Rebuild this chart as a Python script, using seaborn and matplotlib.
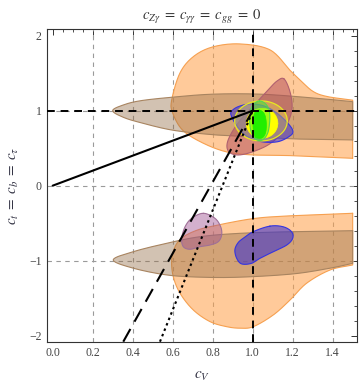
import numpy as np
import matplotlib
matplotlib.use("Agg")
import matplotlib.pyplot as plt
import seaborn as sns
import pandas as pd

# ---------------- data ----------------
# Upper orange region (open outline, closed by the right edge at cV=1.5)
orange_up_cv = [1.50, 1.20, 1.00, 0.87, 0.75, 0.65, 0.60, 0.595, 0.636, 0.703, 0.80, 0.936, 1.087, 1.186, 1.237, 1.30, 1.37, 1.50]
orange_up_ct = [0.365, 0.40, 0.41, 0.45, 0.57, 0.74, 0.97, 1.14, 1.50, 1.72, 1.85, 1.89, 1.81, 1.54, 1.41, 1.26, 1.19, 1.14]
# Lower orange region
orange_lo_cv = [1.50, 1.20, 1.00, 0.787, 0.703, 0.645, 0.612, 0.595, 0.603, 0.637, 0.703, 0.787, 0.87, 0.937, 1.003, 1.103, 1.187, 1.27, 1.387, 1.50]
orange_lo_ct = [-0.368, -0.40, -0.44, -0.547, -0.613, -0.70, -0.813, -0.99, -1.213, -1.435, -1.657, -1.813, -1.88, -1.90, -1.88, -1.724, -1.524, -1.30, -1.124, -1.057]
# Upper brown band
brown_up_cv = [1.50, 1.25, 1.00, 0.80, 0.60, 0.44, 0.353, 0.30, 0.353, 0.44, 0.60, 0.80, 1.04, 1.30, 1.50]
brown_up_ct = [0.61, 0.62, 0.65, 0.68, 0.74, 0.84, 0.912, 1.00, 1.076, 1.133, 1.18, 1.22, 1.22, 1.17, 1.12]
# Lower brown band
brown_lo_cv = [1.50, 1.20, 0.937, 0.737, 0.57, 0.403, 0.303, 0.403, 0.57, 0.737, 0.937, 1.20, 1.387, 1.50]
brown_lo_ct = [-0.60, -0.613, -0.635, -0.68, -0.768, -0.88, -0.99, -1.10, -1.19, -1.22, -1.22, -1.177, -1.10, -1.035]
# Upper red ellipse
red_cv = [1.157, 1.187, 1.197, 1.177, 1.137, 1.077, 0.997, 0.927, 0.882, 0.872, 0.897, 0.947, 1.012, 1.077, 1.122]
red_ct = [1.423, 1.249, 1.036, 0.849, 0.676, 0.543, 0.449, 0.409, 0.449, 0.556, 0.716, 0.903, 1.089, 1.276, 1.396]
# Lower purple blob
purple_cv = [0.753, 0.8115, 0.84, 0.845, 0.828, 0.787, 0.737, 0.687, 0.653, 0.645, 0.662, 0.695]
purple_ct = [-0.368, -0.435, -0.547, -0.657, -0.747, -0.791, -0.813, -0.848, -0.813, -0.701, -0.547, -0.435]
# Upper blue ellipse
blue_up_cv = [0.893, 0.927, 0.99, 1.06, 1.12, 1.17, 1.20, 1.19, 1.127, 1.043, 0.97, 0.92, 0.895]
blue_up_ct = [0.987, 1.053, 1.09, 1.06, 0.97, 0.85, 0.74, 0.67, 0.587, 0.587, 0.66, 0.80, 0.92]
# Lower blue blob
blue_lo_cv = [1.0865, 1.153, 1.195, 1.20, 1.17, 1.103, 1.037, 0.995, 0.945, 0.92, 0.911, 0.926, 0.953, 1.003]
blue_lo_ct = [-0.539, -0.548, -0.615, -0.703, -0.792, -0.88, -0.968, -1.035, -1.043, -0.968, -0.857, -0.764, -0.701, -0.613]
# Yellow contours (centre cV, centre ct, half-width, half-height)
yellow_outer = [1.0415, 0.863, 0.1315, 0.267]
yellow_inner = [1.047, 0.832, 0.079, 0.200]
# Green contours
green_outer_cv = [1.035, 1.065, 1.083, 1.085, 1.075, 1.050, 1.020, 0.995, 0.985, 0.990, 1.005]
green_outer_ct = [1.129, 1.09, 1.00, 0.85, 0.70, 0.612, 0.612, 0.70, 0.85, 1.00, 1.09]
green_inner_cv = [1.033, 1.058, 1.068, 1.066, 1.052, 1.030, 1.010, 1.002, 1.004, 1.012]
green_inner_ct = [1.009, 0.96, 0.85, 0.72, 0.645, 0.632, 0.66, 0.78, 0.90, 0.98]

# Lines (cV, ct endpoints)
solid_cv = [0.0, 1.0]
solid_ct = [0.0, 1.0]
dashed_cv = [0.353, 1.0]
dashed_ct = [-2.08, 1.0]
dotted_cv = [0.5365, 1.0]
dotted_ct = [-2.08, 1.0]

x_ticks = [0.0, 0.2, 0.4, 0.6, 0.8, 1.0, 1.2, 1.4]
x_tick_labels = ["0.0", "0.2", "0.4", "0.6", "0.8", "1.0", "1.2", "1.4"]
y_ticks = [-2, -1, 0, 1, 2]
y_tick_labels = ["\u22122", "\u22121", "0", "1", "2"]
x_grid = [0.2, 0.4, 0.6, 0.8, 1.0, 1.2, 1.4]
y_grid = [-1, 0, 1]

# ---------------- helpers ----------------
def catmull(pts, closed, n=16):
    pts = np.asarray(pts, float)
    if closed:
        P = np.vstack([pts[-1], pts, pts[0], pts[1]])
        segs = len(pts)
    else:
        P = np.vstack([2 * pts[0] - pts[1], pts, 2 * pts[-1] - pts[-2]])
        segs = len(pts) - 1
    out = []
    t = np.linspace(0, 1, n, endpoint=False)[:, None]
    for i in range(segs):
        p0, p1, p2, p3 = P[i], P[i + 1], P[i + 2], P[i + 3]
        c = 0.5 * ((2 * p1) + (-p0 + p2) * t + (2 * p0 - 5 * p1 + 4 * p2 - p3) * t ** 2
                   + (-p0 + 3 * p1 - 3 * p2 + p3) * t ** 3)
        out.append(c)
    if not closed:
        out.append(pts[-1][None, :])
    return np.vstack(out)

def region(ax, cv, ct, closed, fc, alpha, ec, lw=0.8, z=2):
    c = catmull(np.column_stack([cv, ct]), closed)
    ax.fill(c[:, 0], c[:, 1], facecolor=fc, alpha=alpha, edgecolor="none", zorder=z)
    cc = np.vstack([c, c[:1]])
    ax.plot(cc[:, 0], cc[:, 1], color=ec, lw=lw, zorder=z + 0.1)

def ellipse(ax, p, fc, alpha, ec, lw=0.8, z=2):
    th = np.linspace(0, 2 * np.pi, 200)
    x = p[0] + p[2] * np.cos(th)
    y = p[1] + p[3] * np.sin(th)
    ax.fill(x, y, facecolor=fc, alpha=alpha, edgecolor="none", zorder=z)
    ax.plot(x, y, color=ec, lw=lw, zorder=z + 0.1)

# ---------------- figure ----------------
sns.set_theme(style="white")
plt.rcParams["font.family"] = ["Liberation Serif", "DejaVu Serif"]
plt.rcParams["mathtext.fontset"] = "stix"

fig = plt.figure(figsize=(3.59, 3.85), dpi=100)
ax = fig.add_axes([0.130, 0.1125, 0.8635, 0.8114])

for gx in x_grid:
    ax.axvline(gx, color="#9a9a9a", lw=0.8, ls=(0, (4, 4)), zorder=1)
for gy in y_grid:
    ax.axhline(gy, color="#9a9a9a", lw=0.8, ls=(0, (4, 4)), zorder=1)

region(ax, orange_up_cv, orange_up_ct, False, "#FFA048", 0.55, "#F6A050", z=2)
region(ax, orange_lo_cv, orange_lo_ct, False, "#FFA048", 0.55, "#F6A050", z=2)
region(ax, brown_up_cv, brown_up_ct, False, "#946E48", 0.42, "#A88460", z=3)
region(ax, brown_lo_cv, brown_lo_ct, False, "#946E48", 0.42, "#A88460", z=3)
region(ax, red_cv, red_ct, True, "#B04858", 0.5, "#B06070", z=4)
region(ax, purple_cv, purple_ct, True, "#9E5090", 0.45, "#A07098", z=4)
region(ax, blue_up_cv, blue_up_ct, True, "#3A2ED0", 0.55, "#3434E0", lw=0.8, z=5)
region(ax, blue_lo_cv, blue_lo_ct, True, "#3A2ED0", 0.58, "#3434E0", lw=0.8, z=5)
ellipse(ax, yellow_outer, "#FFFF40", 0.3, "#E8E820", lw=0.9, z=6)
ellipse(ax, yellow_inner, "#FFFF00", 1.0, "#FFFF00", lw=0.5, z=7)
region(ax, green_outer_cv, green_outer_ct, True, "#30F030", 0.45, "#50D850", z=8)
region(ax, green_inner_cv, green_inner_ct, True, "#22EE00", 1.0, "#22EE00", lw=0.5, z=9)

# crosshair
ax.axvline(1.0, color="black", lw=1.4, ls=(0, (4, 3)), zorder=10)
ax.axhline(1.0, color="black", lw=1.4, ls=(0, (4, 3)), zorder=10)

lines = pd.DataFrame({
    "cv": solid_cv + dashed_cv + dotted_cv,
    "ct": solid_ct + dashed_ct + dotted_ct,
    "kind": ["solid"] * 2 + ["dashed"] * 2 + ["dotted"] * 2,
})
for kind, ls in [("solid", "-"), ("dashed", (0, (7, 4))), ("dotted", (0, (1.2, 1.6)))]:
    d = lines[lines.kind == kind]
    sns.lineplot(data=d, x="cv", y="ct", sort=False, ax=ax, color="black",
                 lw=1.5, linestyle=ls, zorder=11, legend=False)

ax.set_xlim(-0.03, 1.52)
ax.set_ylim(-2.08, 2.085)
ax.set_xticks(x_ticks)
ax.set_xticklabels(x_tick_labels)
ax.set_yticks(y_ticks)
ax.set_yticklabels(y_tick_labels)
ax.set_xticks(np.arange(-0.0, 1.5201, 0.05), minor=True)
ax.set_yticks(np.arange(-2.0, 2.001, 0.2), minor=True)
ax.tick_params(which="both", direction="in", top=True, right=True, colors="#333333",
               labelcolor="#444444", labelsize=8.5)
ax.tick_params(which="major", length=4, width=0.7)
ax.tick_params(which="minor", length=2, width=0.6)
for s in ax.spines.values():
    s.set_color("#333333")
    s.set_linewidth(0.8)

ax.set_xlabel(r"$c_V$", fontsize=11, color="#333344", labelpad=8)
ax.set_ylabel(r"$c_t\;=\;c_b\;=\;c_\tau$", fontsize=11, color="#333344", labelpad=6)
ax.set_title(r"$c_{Z\gamma}\;=\;c_{\gamma\gamma}\;=\;c_{gg}\;=\;0$", fontsize=10.5, color="#333333", pad=7)

fig.savefig("out.png", dpi=100)
